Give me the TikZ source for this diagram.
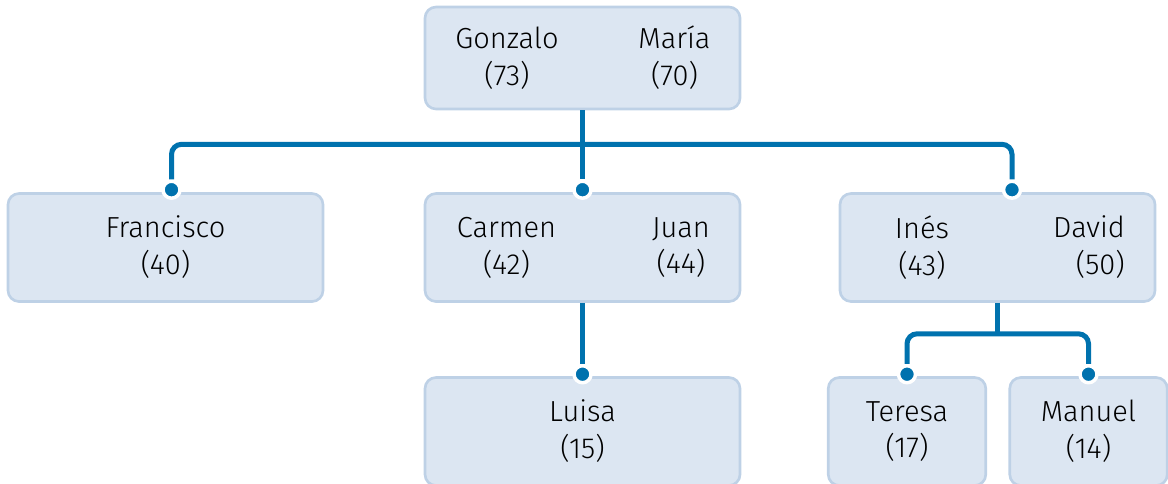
\documentclass[tikz,border=0pt]{standalone}
\usepackage{fontspec}
\setmainfont{Fira Sans}[UprightFont={* Light}]
\usepackage{xcolor}
\usepackage{tikz}
\usetikzlibrary{calc,positioning}

\definecolor{famblue}{RGB}{0,114,174}
\definecolor{boxfill}{RGB}{220,230,242}
\definecolor{boxedge}{RGB}{190,209,230}

\tikzset{
	person/.style={draw=boxedge, line width=1.5pt, fill=boxfill, rounded corners=0.22cm,
		minimum width=6.3cm, minimum height=2.16cm, inner sep=0pt,
		align=center, font=\fontsize{16.5}{21}\selectfont},
	smallperson/.style={person, minimum width=3.15cm},
	personname/.style={align=center, font=\fontsize{16.5}{21}\selectfont},
	link/.style={draw=famblue, line width=0.1cm, rounded corners=0.2cm},
	knot/.style={circle, fill=famblue, draw=white, line width=0.07cm, minimum size=0.34cm, inner sep=0pt},
}

\begin{document}
\begin{tikzpicture}

	\useasboundingbox (0,0) rectangle (23.36,-9.66);

	% abuelos
	\node (GM) [person, minimum height=2.04cm] at (11.65,-1.16) {};
	\node (gonzalo) [personname] at ($(GM) + (-1.51,0)$) {Gonzalo\\(73)};
	\node (maria) [personname] at ($(GM) + (1.84,0)$) {María\\(70)};

	% hijos
	\node (F) [person] at (3.31,-4.95) {Francisco\\(40)};
	\node (CJ) [person] at (11.65,-4.95) {};
	\node (carmen) [personname] at ($(CJ) + (-1.52,0)$) {Carmen\\(42)};
	\node (juan) [personname] at ($(CJ) + (1.97,0)$) {Juan\\(44)};
	\node (ID) [person] at (19.95,-4.95) {};
	\node (ines) [personname] at ($(ID) + (-1.51,0)$) {Inés\\(43)};
	\node (david) [personname, align=right] at ($(ID) + (1.83,0)$) {David\\(50)};

	% nietos
	\node (L) [person] at (11.65,-8.63) {Luisa\\(15)};
	\node (T) [smallperson] at (18.14,-8.63) {Teresa\\(17)};
	\node (M) [smallperson] at (21.77,-8.63) {Manuel\\(14)};

	\node (kF) [knot] at ($(F.north) + (0.12,0.05)$) {};
	\node (kC) [knot] at ($(CJ.north) + (0,0.05)$) {};
	\node (kI) [knot] at ($(ID.north) + (0.29,0.05)$) {};
	\node (kL) [knot] at ($(L.north) + (0,0.04)$) {};
	\node (kT) [knot] at ($(T.north) + (0,0.04)$) {};
	\node (kM) [knot] at ($(M.north) + (0,0.04)$) {};

	\coordinate (busH) at ($(GM.south) + (0,-0.68)$);
	\coordinate (busL) at ($(ID.south) + (0,-0.62)$);

	\draw [link] (kF) |- (busH) -| (kI);
	\draw [link] (GM.south) -- (kC);
	\draw [link] (CJ.south) -- (kL);
	\draw [link] (ID.south) -- (busL);
	\draw [link] (kT) |- (busL) -| (kM);

\end{tikzpicture}
\end{document}
